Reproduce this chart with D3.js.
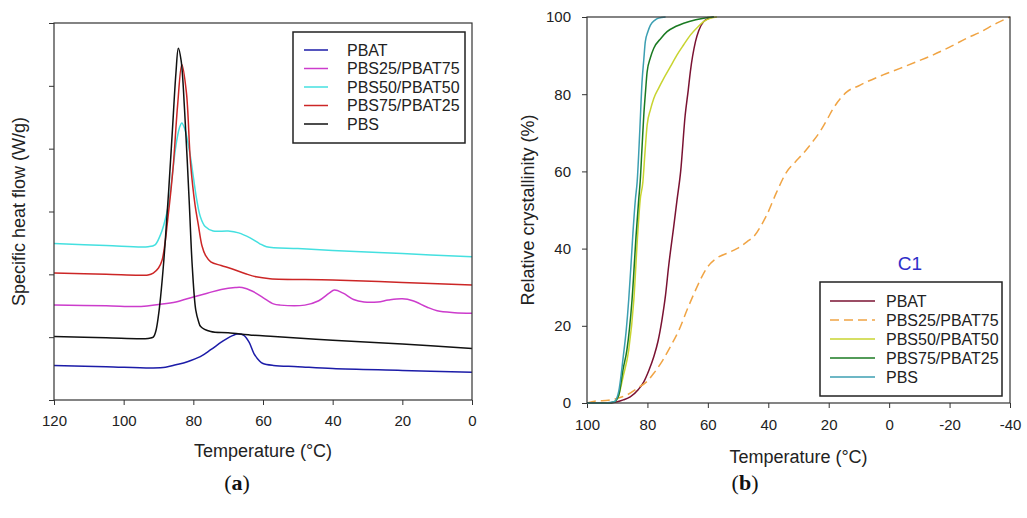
<!DOCTYPE html>
<html>
<head>
<meta charset="utf-8">
<script src="https://cdn.jsdelivr.net/npm/d3@7"></script>
<style>
  body { margin: 0; background: #fff; }
  svg { font-family: Arial, "Liberation Sans", sans-serif; }
  .axis text { font-size: 15px; fill: #222; }
  .axis path { display: none; }
  .axis line { stroke: #333; }
  .axis-title { font-size: 18px; fill: #222; }
  .legend text { font-size: 16px; fill: #222; }
</style>
</head>
<body>
<svg id="chart" width="1027" height="518"></svg>
<script>
// ---- panel (a): DSC cooling curves, [temperature °C, heat flow (arb. units)] ----
const dscPBAT = [[120,0.55],[105,0.53],[92,0.51],[88,0.52],[85,0.56],[81.7,0.61],[78,0.69],[75,0.80],[72,0.92],[70,0.99],
  [67.4,1.05],[65.5,1.03],[64,0.92],[62.6,0.74],[61,0.62],[60,0.58],[57,0.55],[50,0.53],[40,0.50],[20,0.47],[0,0.44]];
const dscPBS25 = [[120,1.51],[105,1.50],[95,1.49],[90,1.52],[85,1.56],[80,1.64],[76,1.70],[72,1.76],[68,1.79],[66,1.79],
  [63,1.73],[60,1.63],[57,1.53],[55,1.51],[48,1.51],[44,1.58],[41,1.70],[39.5,1.75],[37,1.70],[34,1.60],[31,1.56],
  [27,1.56],[24,1.59],[20,1.61],[17,1.58],[13,1.48],[10,1.42],[5,1.39],[0,1.38]];
const dscPBS50 = [[120,2.49],[105,2.46],[93,2.44],[91,2.47],[89.5,2.62],[88.5,2.78],[87,3.15],[86,3.6],[85,4.05],[84,4.33],
  [83.3,4.41],[82.5,4.32],[81,3.93],[80,3.55],[79,3.18],[78,2.92],[76.6,2.76],[74.3,2.69],[70,2.69],[67,2.66],[63.7,2.58],
  [61,2.49],[59,2.44],[50,2.41],[40,2.38],[20,2.33],[0,2.28]];
const dscPBS75 = [[120,2.02],[105,2.0],[93,1.99],[91.5,2.02],[90,2.1],[89,2.22],[88,2.55],[87.5,2.8],[86.5,3.3],[85.7,3.77],
  [84.5,4.7],[83.3,5.34],[82,4.9],[80.8,3.77],[79.5,3.1],[78.6,2.8],[77.5,2.45],[76.5,2.3],[75,2.2],[72,2.14],[69,2.09],
  [65,2.01],[62,1.96],[58,1.93],[40,1.91],[20,1.87],[0,1.83]];
const dscPBS = [[120,1.01],[105,0.99],[93,0.98],[91.5,1.0],[90.8,1.09],[90,1.35],[89.4,1.64],[88.5,2.2],[87.9,2.66],[87,3.4],
  [86,4.3],[85,5.2],[84.3,5.6],[83.5,5.4],[82.5,4.6],[81.2,3.18],[80.3,2.12],[79.3,1.43],[78.5,1.25],[77.9,1.17],[75,1.09],
  [70,1.07],[62.6,1.03],[56.8,1.01],[40,0.95],[20,0.89],[0,0.82]];

// ---- panel (b): relative crystallinity (%) vs temperature ----
const xcPBAT = [[100,0],[93,0],[90,0.3],[88,0.8],[85.7,1.6],[83,3.5],[81.2,5.5],[79.5,8.5],[77.9,12],[76.5,16],[75.2,21.5],
  [74,28],[73,35.3],[71.3,45.7],[70.2,52.6],[69,60],[67.5,74.6],[66.5,81],[65.8,85.8],[64.1,93.6],[63,96.5],[61.4,98.8],
  [59.5,99.7],[58,100]];
const xcPBS25 = [[100,0],[97,0.5],[93,0.7],[90,1.2],[87,2],[83.4,3.8],[80,5.7],[77.9,7.7],[75,11],[72.4,14.6],[69.5,19],
  [66.9,24.1],[64.5,28.5],[62.5,31.9],[60.4,34.9],[57.1,37.5],[53,39],[50.4,40],[47,41.8],[44.4,43.5],[42,46.5],[40.5,48.7],
  [37.2,54.7],[33.9,59.9],[31,62.5],[28.4,64.7],[25.5,67.5],[22.9,70.3],[20.5,73.5],[18.5,76.3],[16,79],[14,80.6],[10,82.2],
  [7.4,83.2],[2,85],[-3.6,86.7],[-9,88.4],[-14.6,90.2],[-20,92.2],[-25.7,94.5],[-30,96],[-35.6,98.4],[-40,100]];
const xcPBS50 = [[100,0],[93,0],[91,0.3],[89.5,2],[88,7],[86.2,13.7],[84.5,26.7],[83.2,44],[82.4,52.6],[81.5,57.3],[80.8,65],
  [80.1,72],[79,76],[77.9,78.9],[76.2,81.7],[74.6,84.1],[72.5,87],[70.2,90.2],[68,92.8],[65.8,95.3],[63.5,97.3],[61.4,98.8],
  [59,99.7],[57,100]];
const xcPBS75 = [[100,0],[93,0],[91,0.3],[89.5,2],[88,9],[86.8,13.7],[85.1,26.7],[83.7,44],[82.9,52.6],[82.4,57.3],[81.8,66],
  [81.2,74.6],[80.6,81],[80.1,85.8],[79,89.5],[77.9,91.9],[75.5,94.5],[73.5,96.2],[70.5,97.6],[68,98.4],[64,99.3],[61.4,99.7],
  [58,100]];
const xcPBS = [[100,0],[94,0],[91,0.3],[89.5,3],[88,12],[87,19],[86.2,26.7],[85.5,35],[84.8,44],[84,52.6],[83.4,57.3],[82.5,71],
  [81.8,83],[81.2,89],[80.7,93.6],[79.8,96.3],[79,97.9],[77.5,99.2],[76.3,99.7],[74,100]];

const seriesNames = ['PBAT', 'PBS25/PBAT75', 'PBS50/PBAT50', 'PBS75/PBAT25', 'PBS'];
const colorsA = ['#1c1ca8', '#cc3ccc', '#44e0e0', '#cc2626', '#111111'];
const colorsB = ['#7a1232', '#f0a444', '#c8d430', '#1a7a22', '#3c9fb2'];
const ticksA = [120, 100, 80, 60, 40, 20, 0];
const ticksAy = [0, 1, 2, 3, 4, 5, 6];
const ticksB = [100, 80, 60, 40, 20, 0, -20, -40];
const ticksBy = [0, 20, 40, 60, 80, 100];

const svg = d3.select('#chart');

function drawPanel(cfg) {
    const g = svg.append('g');
    const x = d3.scaleLinear().domain(cfg.xDomain).range([cfg.left, cfg.right]);
    const y = d3.scaleLinear().domain(cfg.yDomain).range([cfg.bottom, cfg.top]);

    // plain hyphen for negatives, like the original
    g.append('g')
        .attr('class', 'axis')
        .attr('transform', `translate(0,${cfg.bottom})`)
        .call(d3.axisBottom(x).tickValues(cfg.xTicks).tickSize(cfg.tick).tickPadding(cfg.xPad).tickSizeOuter(0)
            .tickFormat(d => String(d)));

    g.append('g')
        .attr('class', 'axis')
        .attr('transform', `translate(${cfg.left},0)`)
        .call(d3.axisLeft(y).tickValues(cfg.yTicks).tickSize(cfg.tick).tickPadding(cfg.yPad).tickSizeOuter(0)
            .tickFormat(cfg.yLabels ? d => String(d) : () => ''));

    const line = d3.line()
        .x(d => x(d[0]))
        .y(d => y(d[1]))
        .curve(cfg.curve);

    cfg.series.forEach((s, i) => {
        g.append('path')
            .datum(s)
            .attr('fill', 'none')
            .attr('stroke', cfg.colors[i])
            .attr('stroke-width', 1.5)
            .attr('stroke-dasharray', cfg.dashed === i ? '9,5' : null)
            .attr('d', line);
    });

    // frame
    g.append('rect')
        .attr('x', cfg.left).attr('y', cfg.top)
        .attr('width', cfg.right - cfg.left).attr('height', cfg.bottom - cfg.top)
        .attr('fill', 'none').attr('stroke', '#333').attr('stroke-width', 1.2);

    // axis titles
    g.append('text')
        .attr('class', 'axis-title')
        .attr('x', (cfg.left + cfg.right) / 2)
        .attr('y', cfg.xTitleY)
        .attr('text-anchor', 'middle')
        .text('Temperature (°C)');

    g.append('text')
        .attr('class', 'axis-title')
        .attr('transform', `translate(${cfg.yTitleX},${(cfg.top + cfg.bottom) / 2}) rotate(-90)`)
        .attr('text-anchor', 'middle')
        .text(cfg.yTitle);

    // legend
    const lg = g.append('g').attr('class', 'legend');
    const L = cfg.legend;
    lg.append('rect')
        .attr('x', L.x).attr('y', L.y).attr('width', L.w).attr('height', L.h)
        .attr('fill', '#fff').attr('stroke', '#222').attr('stroke-width', 1.5);
    seriesNames.forEach((name, i) => {
        const ry = L.y + L.first + i * L.step;
        lg.append('line')
            .attr('x1', L.x + L.lineX0).attr('x2', L.x + L.lineX1)
            .attr('y1', ry).attr('y2', ry)
            .attr('stroke', cfg.colors[i]).attr('stroke-width', 1.5)
            .attr('stroke-dasharray', cfg.dashed === i ? '9,5' : null);
        lg.append('text')
            .attr('x', L.x + L.textX).attr('y', ry)
            .attr('dy', '0.36em')
            .text(name);
    });
    return g;
}

drawPanel({
    left: 54, right: 472, top: 23, bottom: 400,
    xDomain: [120, 0], yDomain: [0, 6],
    xTicks: ticksA, yTicks: ticksAy, yLabels: false,
    tick: 5, xPad: 10, yPad: 4,
    series: [dscPBAT, dscPBS25, dscPBS50, dscPBS75, dscPBS],
    colors: colorsA, dashed: -1,
    curve: d3.curveCatmullRom.alpha(0.5),
    xTitleY: 457,
    yTitleX: 25, yTitle: 'Specific heat flow (W/g)',
    legend: { x: 293, y: 32, w: 172, h: 111, first: 18, step: 18.5, lineX0: 11, lineX1: 35, textX: 54 }
});

const panelB = drawPanel({
    left: 587, right: 1010, top: 17, bottom: 403,
    xDomain: [100, -40], yDomain: [0, 100],
    xTicks: ticksB, yTicks: ticksBy, yLabels: true,
    tick: 5, xPad: 11, yPad: 11,
    series: [xcPBAT, xcPBS25, xcPBS50, xcPBS75, xcPBS],
    colors: colorsB, dashed: 1,
    curve: d3.curveMonotoneX,
    xTitleY: 463,
    yTitleX: 534, yTitle: 'Relative crystallinity (%)',
    legend: { x: 820, y: 282, w: 182, h: 114, first: 19, step: 19, lineX0: 10, lineX1: 55, textX: 66 }
});

panelB.append('text')
    .attr('x', 910).attr('y', 270)
    .attr('text-anchor', 'middle')
    .attr('fill', '#2e2ec8')
    .style('font-size', '19px')
    .text('C1');

// sub-figure captions
[['a', 237], ['b', 745]].forEach(([letter, cx]) => {
    const t = svg.append('text')
        .attr('x', cx).attr('y', 490)
        .attr('text-anchor', 'middle')
        .style('font-family', '"Liberation Serif", "DejaVu Serif", serif')
        .style('font-size', '22px')
        .attr('fill', '#111');
    t.append('tspan').text('(');
    t.append('tspan').style('font-weight', 'bold').text(letter);
    t.append('tspan').text(')');
});
</script>
</body>
</html>
